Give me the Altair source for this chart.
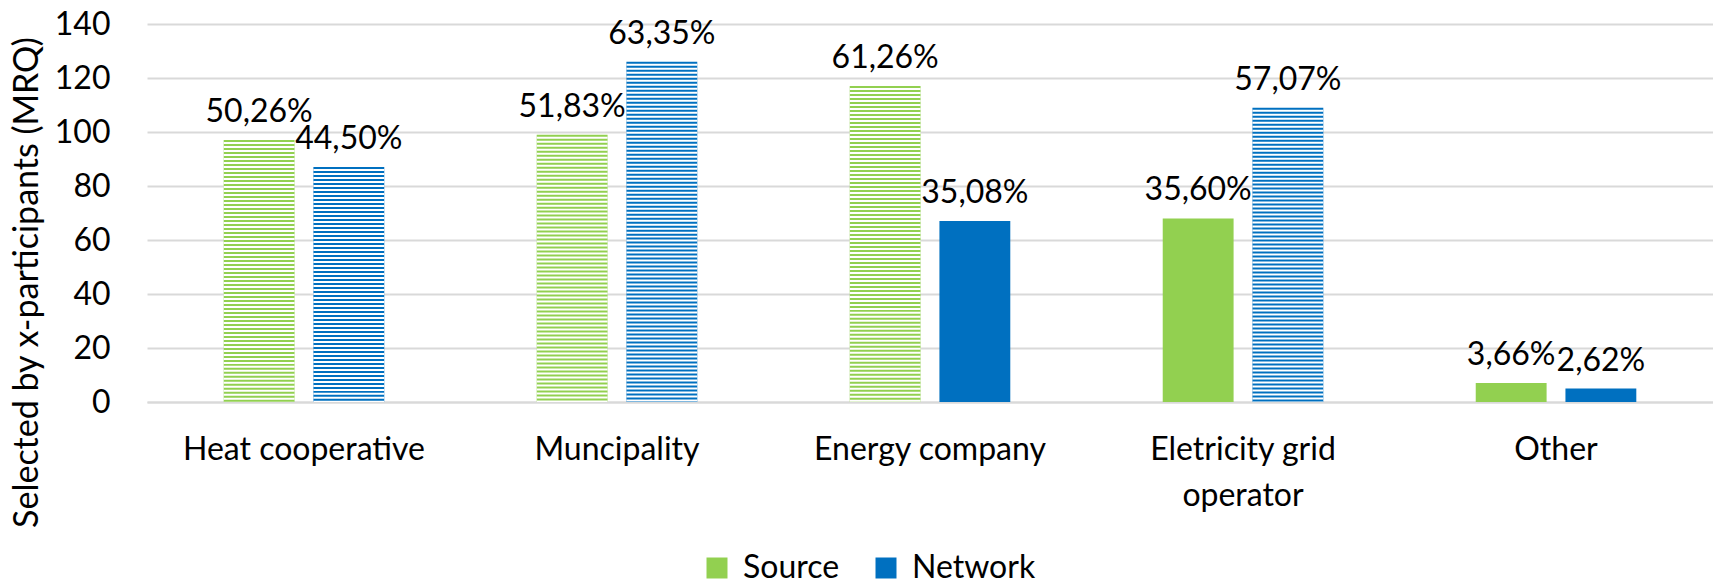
import altair as alt
import pandas as pd

# ---- data ----
categories = ["Heat cooperative", "Muncipality", "Energy company", "Eletricity grid operator", "Other"]
series = ["Source", "Network"]
colors = ["#92D050", "#0070C0"]

source_values = [97, 99, 117, 68, 7]
network_values = [87, 126, 67, 109, 5]
source_labels = ["50,26%", "51,83%", "61,26%", "35,60%", "3,66%"]
network_labels = ["44,50%", "63,35%", "35,08%", "57,07%", "2,62%"]
source_hatched = [True, True, True, False, False]
network_hatched = [True, True, False, True, False]
y_ticks = [0, 20, 40, 60, 80, 100, 120, 140]

FONT = "Lato"
FS = 32
STRIPE_STEP = 1.48  # data units per stripe period

rows = []
for i, c in enumerate(categories):
    rows.append(dict(category=c, series="Source", value=source_values[i],
                     label=source_labels[i], hatched=source_hatched[i]))
    rows.append(dict(category=c, series="Network", value=network_values[i],
                     label=network_labels[i], hatched=network_hatched[i]))
df = pd.DataFrame(rows)

stripe_rows = []
for r in rows:
    if not r["hatched"]:
        continue
    k = 0
    while r["value"] - (k + 0.5) * STRIPE_STEP > 0:
        top = r["value"] - (k + 0.5) * STRIPE_STEP
        bot = max(r["value"] - (k + 1) * STRIPE_STEP, 0)
        stripe_rows.append(dict(category=r["category"], series=r["series"], y1=top, y2=bot))
        k += 1
stripes = pd.DataFrame(stripe_rows)

x_scale = alt.Scale(domain=categories, paddingInner=0.487, paddingOuter=0.245)
xo_scale = alt.Scale(domain=series, paddingInner=0.21, paddingOuter=0)
y_scale = alt.Scale(domain=[0, 140], nice=False)

x_enc = alt.X("category:N", sort=categories, scale=x_scale, title=None,
              axis=alt.Axis(labelAngle=0, domain=True, domainColor="#d9d9d9", domainWidth=2,
                            ticks=False, grid=False, labelFont=FONT, labelFontSize=FS,
                            labelColor="black", labelPadding=32, labelLineHeight=46,
                            labelLimit=400,
                            labelExpr="datum.label == 'Eletricity grid operator' ? ['Eletricity grid', 'operator'] : datum.label"))
xo_enc = alt.XOffset("series:N", scale=xo_scale, sort=series)

bars = alt.Chart(df).mark_bar().encode(
    x=x_enc,
    xOffset=xo_enc,
    y=alt.Y("value:Q", scale=y_scale,
            axis=alt.Axis(values=y_ticks, domain=False, ticks=False, gridColor="#d9d9d9",
                          gridWidth=2, labelFont=FONT, labelFontSize=FS, labelColor="black",
                          labelPadding=37, title="Selected by x-participants (MRQ)",
                          titleFont=FONT, titleFontSize=34, titleFontWeight="normal",
                          titleColor="black", titleAngle=-90, titleX=-120, titleY=258,
                          titleAlign="center", titleBaseline="middle")),
    color=alt.Color("series:N", sort=series,
                    scale=alt.Scale(domain=series, range=colors),
                    legend=alt.Legend(title=None, orient="none", legendX=554, legendY=528,
                                      direction="horizontal", symbolType="square",
                                      symbolSize=441, symbolStrokeWidth=0,
                                      labelFont=FONT, labelFontSize=FS, labelColor="black",
                                      labelOffset=10, columnPadding=30,
                                      labelLimit=300)),
)

stripe_layer = alt.Chart(stripes).mark_bar(color="white").encode(
    x=alt.X("category:N", sort=categories, scale=x_scale),
    xOffset=alt.XOffset("series:N", scale=xo_scale, sort=series),
    y=alt.Y("y1:Q", scale=y_scale),
    y2="y2:Q",
)

labels = alt.Chart(df).mark_text(font=FONT, fontSize=FS, color="black",
                                 baseline="alphabetic", dy=-18).encode(
    x=alt.X("category:N", sort=categories, scale=x_scale),
    xOffset=alt.XOffset("series:N", scale=xo_scale, sort=series),
    y=alt.Y("value:Q", scale=y_scale),
    text="label:N",
)

chart = alt.layer(bars, stripe_layer, labels).properties(
    width=1566, height=378,
    padding={"left": 139, "top": 16, "right": 0, "bottom": 181},
    autosize=alt.AutoSizeParams(type="none"),
).configure_view(stroke=None)

chart.save("out.html", embed_options={"renderer": "svg", "actions": False})
